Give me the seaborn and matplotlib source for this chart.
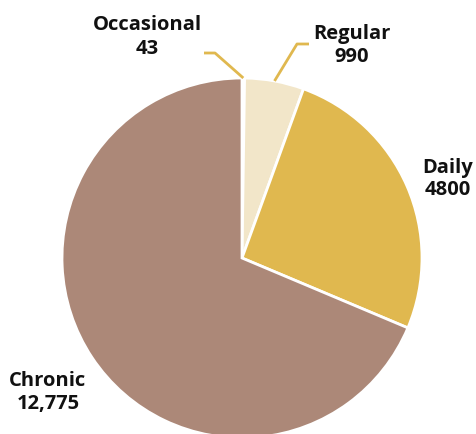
import numpy as np
import matplotlib
matplotlib.use("Agg")
import matplotlib.pyplot as plt
import seaborn as sns

categories = ["Occasional", "Regular", "Daily", "Chronic"]
values = [43, 990, 4800, 12775]
value_labels = ["43", "990", "4800", "12,775"]
colors = ["#F7EFF1", "#F2E6C9", "#E0B84F", "#AC8878"]

sns.set_theme(style="white")
plt.rcParams['font.family'] = ['Open Sans', 'DejaVu Sans']

W, H = 477, 434
fig = plt.figure(figsize=(W / 100, H / 100), dpi=100)
ax = fig.add_axes([0, 0, 1, 1])

cx, cy, R = 242, H - 258, 180
wedges, _ = ax.pie(values, colors=colors, startangle=90, counterclock=False,
                   radius=R, center=(cx, cy), frame=True,
                   wedgeprops=dict(edgecolor="white", linewidth=2))
ax.set_xlim(0, W)
ax.set_ylim(0, H)
ax.set_aspect('equal')
ax.axis('off')

line_color = "#E0B84F"
def edge_pt(w):
    ang = np.deg2rad((w.theta1 + w.theta2) / 2)
    return cx + R * np.cos(ang), cy + R * np.sin(ang)

# Occasional leader
x0, y0 = edge_pt(wedges[0])
ax.plot([x0, 215, 204], [y0, H - 53, H - 53], color=line_color, lw=2, solid_capstyle='butt')
# Regular leader
x1, y1 = edge_pt(wedges[1])
ax.plot([x1, 297, 309], [y1, H - 44, H - 44], color=line_color, lw=2, solid_capstyle='butt')

fs = 14.5
label_pos = [(147, H - 37), (352, H - 45), (448, H - 179), (48, H - 392)]
for cat, vl, (tx, ty) in zip(categories, value_labels, label_pos):
    ax.text(tx, ty, f"{cat}\n{vl}", ha='center', va='center', fontsize=fs,
            fontweight='bold', color="#111111", linespacing=1.2)

fig.savefig("out.png", dpi=100)
